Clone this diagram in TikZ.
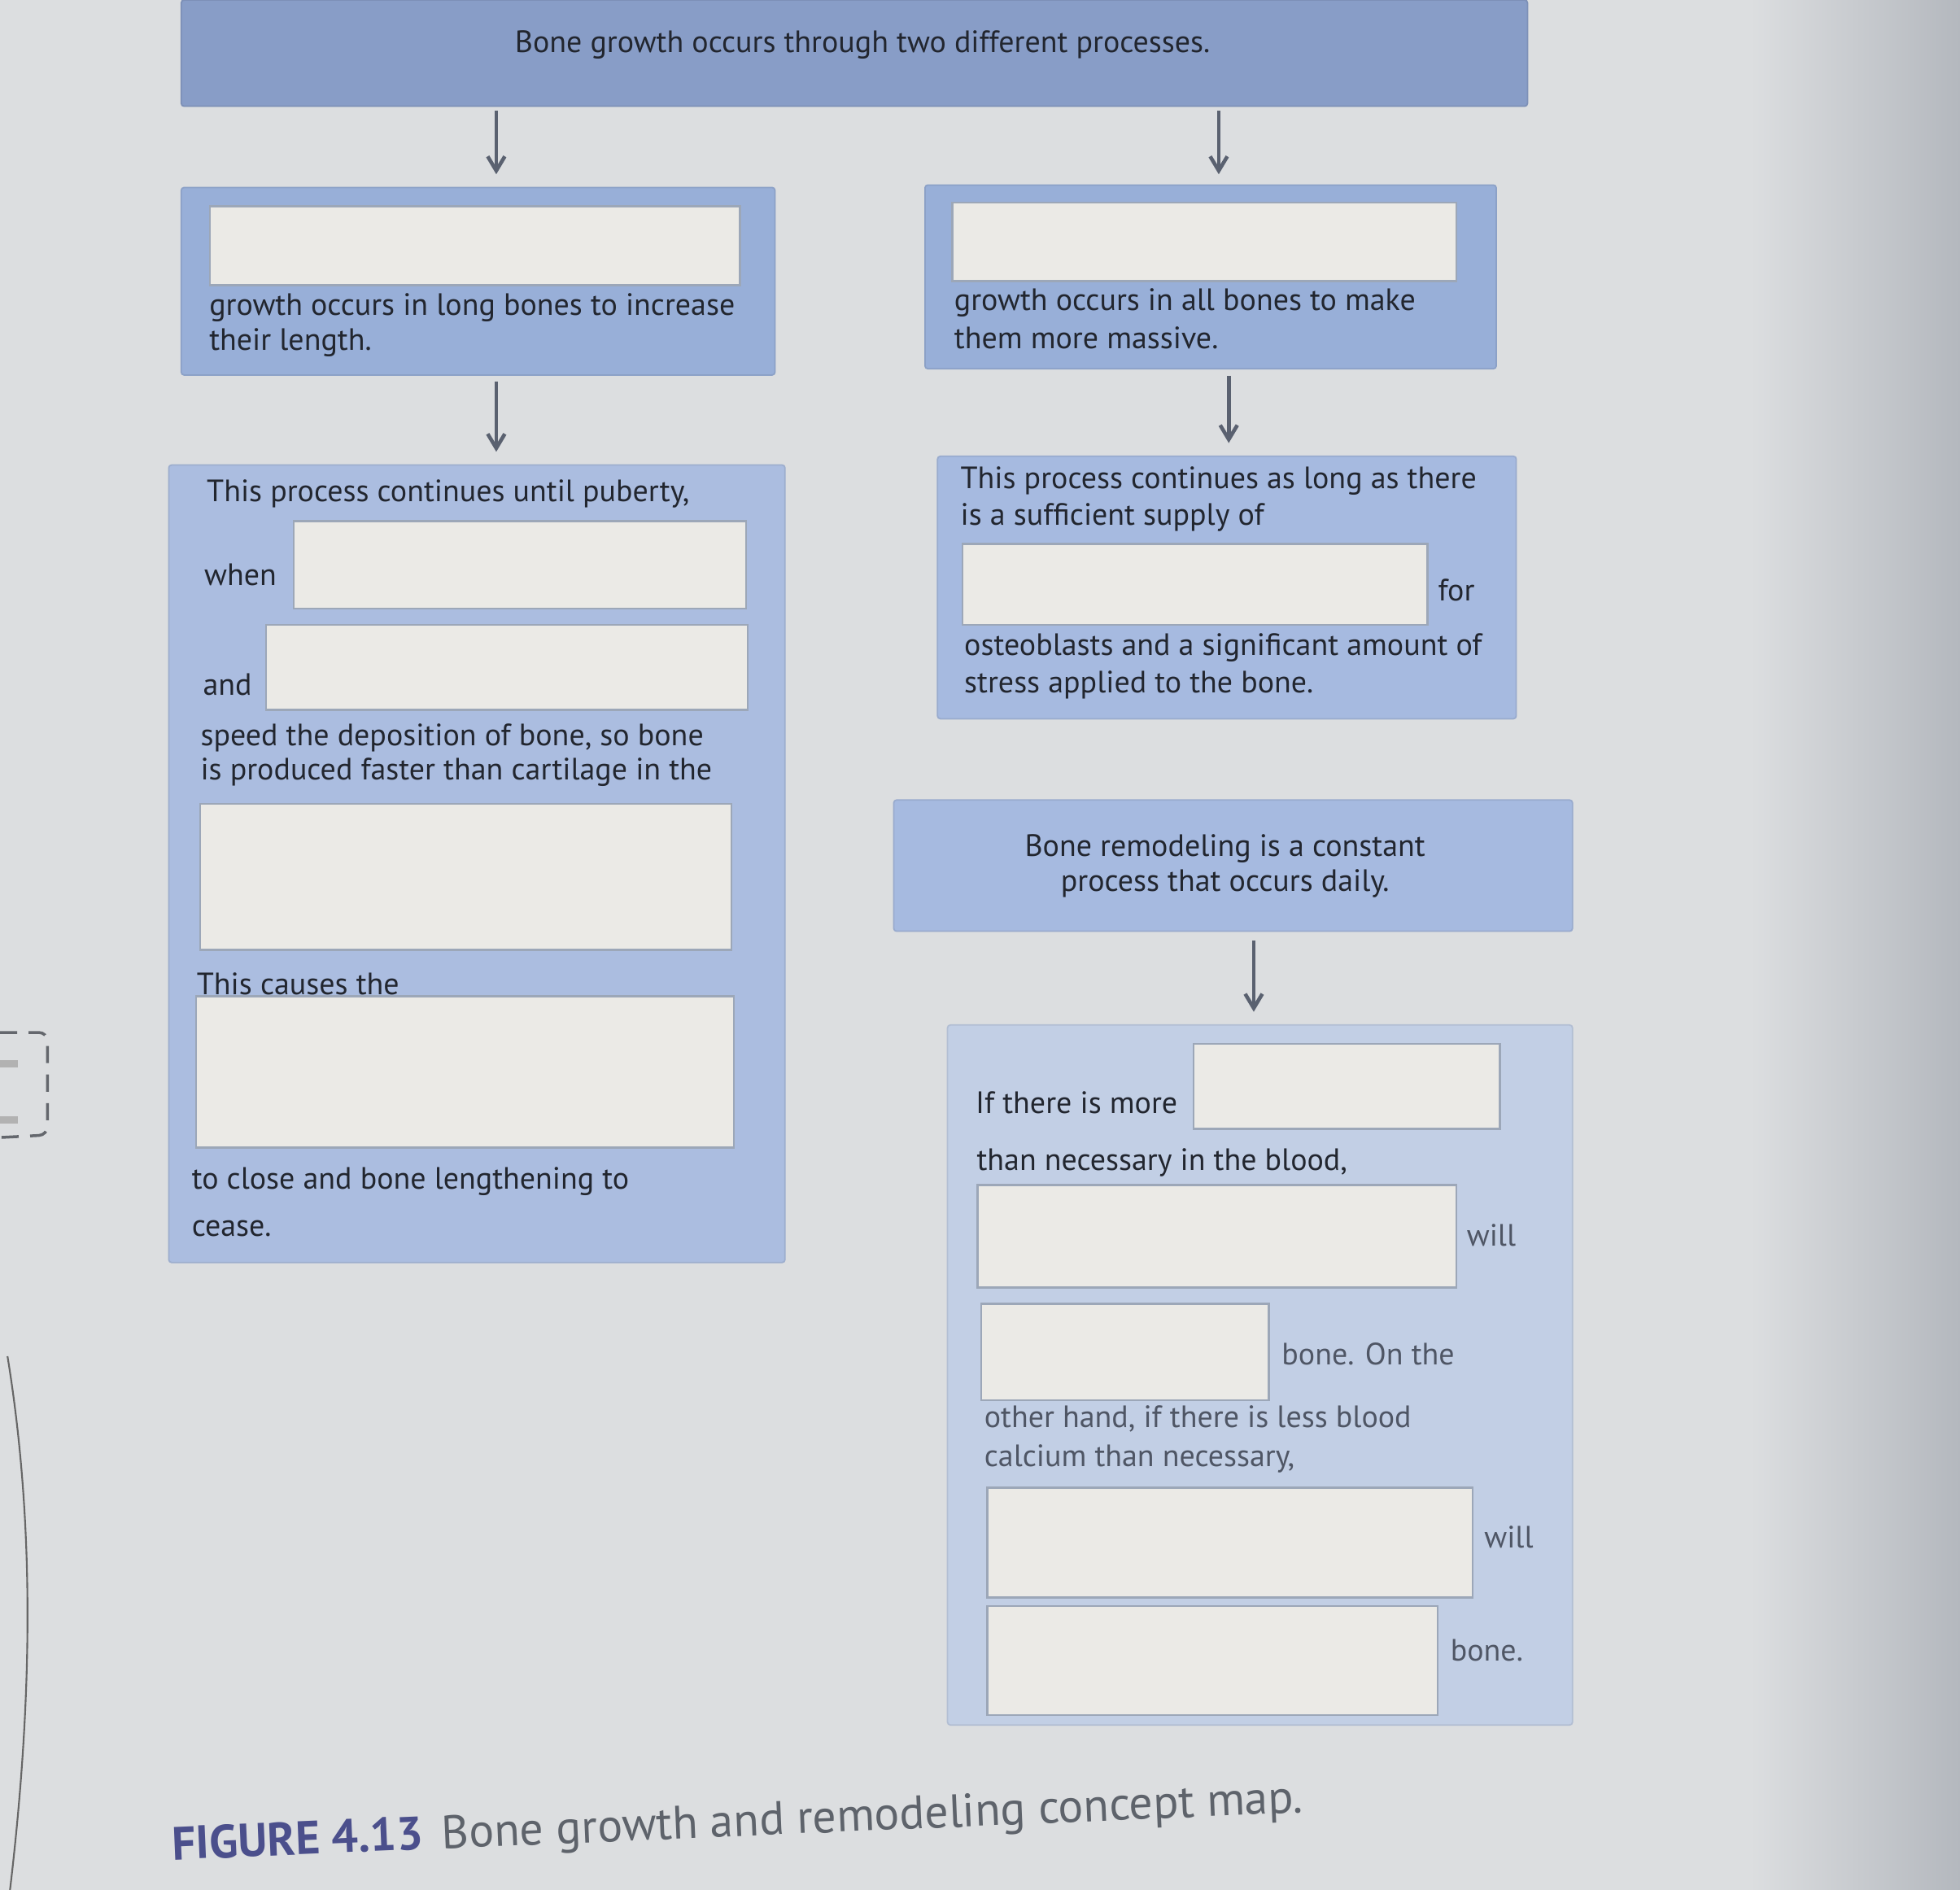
\documentclass[tikz,border=0pt]{standalone}
\usepackage{fontspec}
\setmainfont{PT Sans}
\usetikzlibrary{fit,arrows.meta,calc}
\definecolor{bg}{HTML}{DCDEE0}
\definecolor{bgdark}{HTML}{B4B8BE}
\definecolor{topblue}{HTML}{889DC7}
\definecolor{midblue}{HTML}{98AFD8}
\definecolor{lblue}{HTML}{ABBDE0}
\definecolor{rblue}{HTML}{A6BAE0}
\definecolor{pale}{HTML}{C2CFE5}
\definecolor{blank}{HTML}{EBEAE6}
\definecolor{blankline}{HTML}{9CA7B8}
\definecolor{ink}{HTML}{22262F}
\definecolor{inklight}{HTML}{4F5665}
\definecolor{arrowgray}{HTML}{5A6170}
\definecolor{figblue}{HTML}{4B4F8C}
\definecolor{capgray}{HTML}{5E636B}
\tikzset{
  panel/.style={inner sep=0pt, draw=#1!92!black, line width=0.5pt, fill=#1, rounded corners=1pt},
  blankbox/.style={inner sep=0pt, draw=blankline, line width=0.7pt, fill=blank},
  txt/.style={anchor=west, inner sep=0pt, text=ink, font=\fontsize{10.8}{13}\selectfont},
  txtl/.style={txt, text=inklight},
  ctxt/.style={anchor=center, inner sep=0pt, text=ink, font=\fontsize{10.8}{13}\selectfont},
  arr/.style={draw=arrowgray, line width=1.3pt, -{Straight Barb[length=5pt,width=6pt]}}
}
\begin{document}
\begin{tikzpicture}[x=0.01536cm,y=-0.01536cm]
\useasboundingbox (0,0) rectangle (1568,1512);
% background
\fill[bg] (0,0) rectangle (1568,1512);
\shade[left color=bg, right color=bgdark] (1400,0) rectangle (1568,1512);
% left page artefacts
\draw[ink!70, line width=1pt, dashed, dash pattern=on 6pt off 4pt, rounded corners=3pt]
  (0,826) -- (38,826) -- (38,908) -- (0,910);
\fill[gray!60] (0,848) rectangle (14,854);
\fill[gray!60] (0,893) rectangle (14,899);
\draw[gray!80!black, line width=0.6pt] (6,1085) .. controls (28,1220) and (26,1360) .. (8,1512);

% panels
\node[panel=topblue, fit={(145,0)(1222,85)}] (top) {};
\node[panel=midblue, fit={(145,150)(620,300)}] (L1) {};
\node[panel=midblue, fit={(740,148)(1197,295)}] (R1) {};
\node[panel=lblue, fit={(135,372)(628,1010)}] (L2) {};
\node[panel=rblue, fit={(750,365)(1213,575)}] (R2) {};
\node[panel=rblue, fit={(715,640)(1258,745)}] (R3) {};
\node[panel=pale, fit={(758,820)(1258,1380)}] (R4) {};

% blank answer boxes
\node[blankbox, fit={(168,165)(592,228)}] (w1) {};
\node[blankbox, fit={(762,162)(1165,225)}] (w2) {};
\node[blankbox, fit={(235,417)(597,487)}] (w3) {};
\node[blankbox, fit={(213,500)(598,568)}] (w4) {};
\node[blankbox, fit={(160,643)(585,760)}] (w5) {};
\node[blankbox, fit={(157,797)(587,918)}] (w6) {};
\node[blankbox, fit={(770,435)(1142,500)}] (w7) {};
\node[blankbox, fit={(955,835)(1200,903)}] (w8) {};
\node[blankbox, fit={(782,948)(1165,1030)}] (w9) {};
\node[blankbox, fit={(785,1043)(1015,1120)}] (w10) {};
\node[blankbox, fit={(790,1190)(1178,1278)}] (w11) {};
\node[blankbox, fit={(790,1285)(1150,1372)}] (w12) {};

% texts
\node[ctxt] (t0) at (690,36) {Bone growth occurs through two different processes.};
\node[txt] (l1a) at (167,246) {growth occurs in long bones to increase};
\node[txt] (l1b) at (167,274) {their length.};
\node[txt] (r1a) at (763,242) {growth occurs in all bones to make};
\node[txt] (r1b) at (763,270) {them more massive.};
\node[txt] (l2a) at (165,395) {This process continues until puberty,};
\node[txt] (l2b) at (163,460) {when};
\node[txt] (l2c) at (162,548) {and};
\node[txt] (l2d) at (160,590) {speed the deposition of bone, so bone};
\node[txt] (l2e) at (160,618) {is produced faster than cartilage in the};
\node[txt] (l2f) at (157,787) {This causes the};
\node[txt] (l2g) at (153,945) {to close and bone lengthening to};
\node[txt] (l2h) at (153,983) {cease.};
\node[txt] (r2a) at (768,385) {This process continues as long as there};
\node[txt] (r2b) at (768,414) {is a sufficient supply of};
\node[txt] (r2c) at (1150,472) {for};
\node[txt] (r2d) at (771,518) {osteoblasts and a significant amount of};
\node[txt] (r2e) at (771,548) {stress applied to the bone.};
\node[ctxt] (r3a) at (980,679) {Bone remodeling is a constant};
\node[ctxt] (r3b) at (980,707) {process that occurs daily.};
\node[txt] (r4a) at (780,882) {If there is more};
\node[txt] (r4b) at (781,930) {than necessary in the blood,};
\node[txtl] (r4c) at (1173,988) {will};
\node[txtl] (r4d) at (1025,1083) {bone. On the};
\node[txtl] (r4e) at (787,1135) {other hand, if there is less blood};
\node[txtl] (r4f) at (787,1167) {calcium than necessary,};
\node[txtl] (r4g) at (1187,1230) {will};
\node[txtl] (r4h) at (1160,1320) {bone.};

% arrows
\coordinate (xa) at (397,0);
\coordinate (xb) at (975,0);
\coordinate (xc) at (983,0);
\coordinate (xd) at (1003,0);
\draw[arr] ($(top.south -| xa)+(0,3)$) -- ($(L1.north -| xa)+(0,-10)$);
\draw[arr] ($(top.south -| xb)+(0,3)$) -- ($(R1.north -| xb)+(0,-8)$);
\draw[arr] ($(L1.south -| xa)+(0,5)$) -- ($(L2.north -| xa)+(0,-10)$);
\draw[arr] ($(R1.south -| xc)+(0,5)$) -- ($(R2.north -| xc)+(0,-10)$);
\draw[arr] ($(R3.south -| xd)+(0,7)$) -- ($(R4.north -| xd)+(0,-10)$);

% caption
\node[anchor=base west, inner sep=0pt, rotate=2.4, font=\fontsize{16.4}{18}\selectfont] (cap) at (138,1488)
  {\textcolor{figblue}{\textbf{FIGURE 4.13}}\hspace{0.4em}\textcolor{capgray}{Bone growth and remodeling concept map.}};
\end{tikzpicture}
\end{document}
